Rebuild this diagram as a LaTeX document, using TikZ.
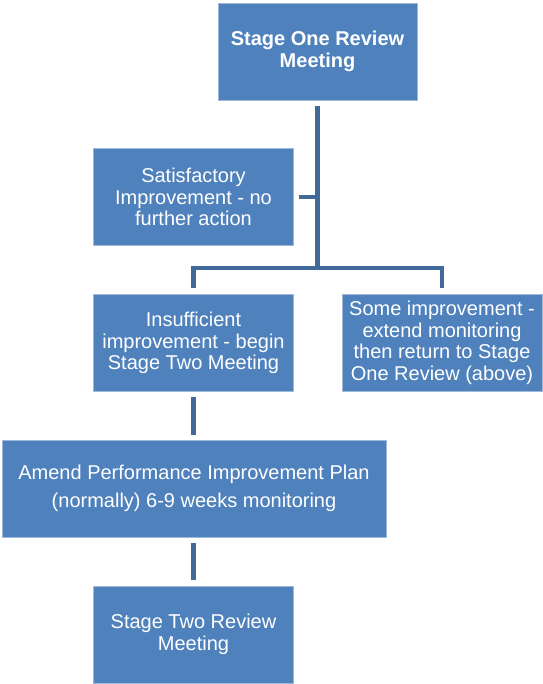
\documentclass[tikz,border=0pt]{standalone}
\usepackage{fontspec}
\setmainfont{Liberation Sans}
\definecolor{boxblue}{HTML}{4F81BD}
\definecolor{lineblue}{HTML}{41699A}

\begin{document}
\begin{tikzpicture}[x=1pt, y=-1pt,
  stagebox/.style={fill=boxblue, draw=boxblue!55!white, line width=0.6pt,
    text=white, align=center, inner sep=0pt, minimum width=200, minimum height=97,
    font=\fontsize{20}{21.5}\selectfont},
  link/.style={draw=lineblue, line width=4.5pt}]
  \useasboundingbox (0,0) rectangle (542,684);

  % Boxes
  \node[stagebox, minimum width=199, font=\bfseries\fontsize{20}{21.5}\selectfont] (one) at (317.5,51.5) {Stage One Review\\Meeting};
  \node[stagebox] (sat) at (193.5,197) {Satisfactory\\Improvement - no\\further action};
  \node[stagebox] (ins) at (193.5,343) {Insufficient\\improvement - begin\\Stage Two Meeting};
  \node[stagebox] (some) at (442,343) {Some improvement -\\extend monitoring\\then return to Stage\\One Review (above)};
  \node[stagebox, minimum width=384] (amend) at (194,488.5) {Amend Performance Improvement Plan\\[6.5pt](normally) 6-9 weeks monitoring};
  \node[stagebox] (two) at (193.5,634.5) {Stage Two Review\\Meeting};

  % Connectors
  \coordinate (fork) at (317.5,268);
  \draw[link, shorten <=6pt] (one.south) -- (fork);
  \draw[link, shorten <=5pt] (sat.east) -- (sat.east -| fork);
  \draw[link, shorten <=6pt, shorten >=6pt] (ins.north) -- (ins.north |- fork) -- (some.north |- fork) -- (some.north);
  \draw[link, shorten <=5pt, shorten >=5pt] (ins.south) -- (amend.north -| ins.south);
  \draw[link, shorten <=6pt, shorten >=6pt] (amend.south -| two.north) -- (two.north);
\end{tikzpicture}
\end{document}
